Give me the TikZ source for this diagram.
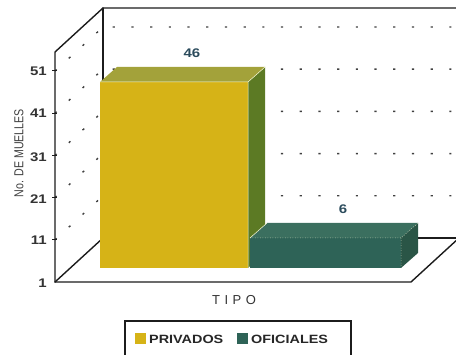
\documentclass[tikz,border=0pt]{standalone}
\usepackage{fontspec}
\setmainfont{Liberation Sans}
\newfontfamily\widefont[FakeStretch=1.2]{Liberation Sans}
\newfontfamily\narrowfont[FakeStretch=0.82]{Liberation Sans}
\definecolor{axisk}{HTML}{1C1C1C}
\definecolor{yfront}{HTML}{D6B317}
\definecolor{ytop}{HTML}{A3A23A}
\definecolor{yside}{HTML}{5C7A24}
\definecolor{tfront}{HTML}{2E6357}
\definecolor{ttop}{HTML}{3B6F5F}
\definecolor{tside}{HTML}{2A5546}
\definecolor{lbl}{HTML}{2B4B5C}
\tikzset{
  axisline/.style={draw=axisk, line width=1.4pt, line join=round, line cap=round},
  gridline/.style={draw=black!75, line width=1.4pt, dash pattern=on 2.2pt off 16.5pt},
  ticklbl/.style={anchor=east, font=\widefont\bfseries\fontsize{12.5}{13}\selectfont, text=black!80, inner sep=0pt},
  vallbl/.style={font=\widefont\bfseries\fontsize{12.5}{13}\selectfont, text=lbl, inner sep=0pt},
  faceedge/.style={draw=white!85!yellow, line width=0.5pt},
}
\begin{document}
\begin{tikzpicture}[x=1pt,y=-1pt]
\useasboundingbox (0,0) rectangle (456,355);
% grid: levels
\foreach \k/\yf in {1/239.8,2/197.6,3/155.4,4/113.2,5/71.0}{
  \draw[gridline] (55,\yf) -- (103,\yf-44) -- (456,\yf-44);
  \draw[axisk, line width=1pt] (52,\yf) -- (57,\yf);
}
% frame
\draw[axisline] (55,282) -- (55,52) -- (103,8) -- (456,8);
\draw[axisline] (103,8) -- (103,238);
\draw[axisline] (55,282) -- (103,238);
\draw[axisline] (103,238) -- (456,238);
\draw[axisline] (55,282) -- (411,282) -- (459,238);
% bar 1 (PRIVADOS)
\fill[yfront] (100,82) rectangle (248,268);
\fill[ytop] (100,82) -- (248,82) -- (265,67) -- (117,67) -- cycle;
\fill[yside] (248,82) -- (265,67) -- (265,253) -- (248,268) -- cycle;
\draw[faceedge] (100,82) -- (248,82) -- (265,67) (248,82) -- (248,268);
% bar 2 (OFICIALES)
\fill[tfront] (250,238) rectangle (401,268);
\fill[ttop] (250,238) -- (401,238) -- (418,223) -- (267,223) -- cycle;
\fill[tside] (401,238) -- (418,223) -- (418,253) -- (401,268) -- cycle;
\draw[faceedge, dotted] (250,238) -- (401,238) -- (418,223) (401,238) -- (401,268);
\draw[faceedge] (250,238) -- (267,223);
% value labels
\node[vallbl] (v46) at (192,53) {46};
\node[vallbl] (v6) at (343,209) {6};
% tick labels
\node[ticklbl] (t1) at (47,283) {1};
\node[ticklbl] (t11) at (47,240) {11};
\node[ticklbl] (t21) at (47,199) {21};
\node[ticklbl] (t31) at (47,157) {31};
\node[ticklbl] (t41) at (47,113) {41};
\node[ticklbl] (t51) at (47,71) {51};
% axis titles
\node[rotate=90, font=\narrowfont\fontsize{13}{14}\selectfont, text=black!75, inner sep=0pt] (ytitle) at (19,153) {No. DE MUELLES};
\node[font=\fontsize{13}{14}\selectfont, text=black!80, inner sep=0pt] (xtitle) at (234,300) {T\hspace{4.5pt}I\hspace{4.5pt}P\hspace{4.5pt}O};
% legend
\draw[draw=axisk, line width=1.2pt] (125,321) rectangle (351,358);
\fill[yfront] (135,333) rectangle (146,344);
\node[anchor=west, font=\widefont\bfseries\fontsize{12}{13}\selectfont, text=black!85, inner sep=0pt] (lp) at (149,339) {PRIVADOS};
\fill[tfront] (237,333) rectangle (248,344);
\node[anchor=west, font=\widefont\bfseries\fontsize{12}{13}\selectfont, text=black!85, inner sep=0pt] (lo) at (251,339) {OFICIALES};
\end{tikzpicture}
\end{document}
